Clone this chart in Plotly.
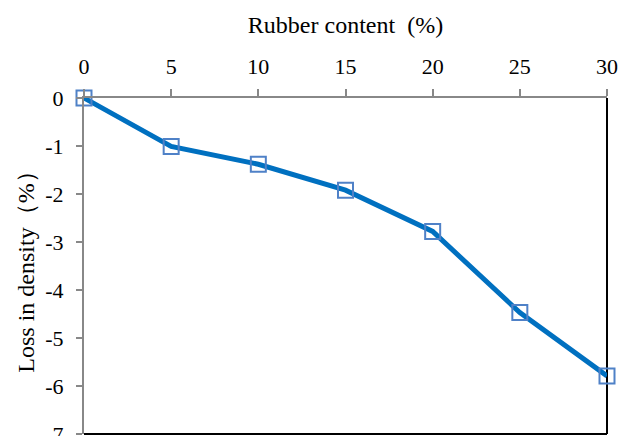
import plotly.graph_objects as go

rubber_content = [0, 5, 10, 15, 20, 25, 30]
loss_in_density = [0, -1.01, -1.38, -1.92, -2.78, -4.47, -5.79]
x_ticks = [0, 5, 10, 15, 20, 25, 30]
y_ticks = [0, -1, -2, -3, -4, -5, -6, -7]
y_tick_text = ["0", "-1", "-2", "-3", "-4", "-5", "-6", "-7"]

FONT = "Liberation Serif, Times New Roman, serif"

fig = go.Figure()
fig.add_trace(go.Scatter(
    x=rubber_content, y=loss_in_density, mode="lines+markers",
    line=dict(color="#0070C0", width=5),
    marker=dict(symbol="square-open", size=15, color="#4F81C7", line=dict(width=2, color="#4F81C7")),
    cliponaxis=False, showlegend=False,
))

fig.update_layout(
    width=619, height=436,
    margin=dict(l=84, r=12, t=98, b=2),
    paper_bgcolor="white", plot_bgcolor="white",
    font=dict(family=FONT, size=22, color="black"),
    xaxis=dict(
        side="top", range=[0, 30], tickvals=x_ticks, ticks="outside", ticklen=7,
        tickcolor="#888888", tickwidth=1.5, showline=True, linecolor="#888888", linewidth=2,
        showgrid=False, zeroline=False, ticklabelstandoff=6, ticklabeloverflow="allow",
        automargin=False,
        title=dict(text="Rubber content  (%)", font=dict(family=FONT, size=24), standoff=14),
        tickfont=dict(family=FONT, size=22),
    ),
    yaxis=dict(
        range=[-7, 0], tickvals=y_ticks, ticktext=y_tick_text, ticks="outside", ticklen=6,
        tickcolor="#888888", tickwidth=1.5, showline=True, linecolor="#888888", linewidth=2,
        showgrid=False, zeroline=False, ticklabelstandoff=8, ticklabeloverflow="allow",
        automargin=False,
        title=dict(text="Loss in density（%）", font=dict(family=FONT, size=24), standoff=4),
        tickfont=dict(family=FONT, size=22),
    ),
)

fig.add_shape(type="line", xref="paper", yref="paper", x0=1, x1=1, y0=0, y1=1,
              line=dict(color="black", width=2), layer="below")
fig.add_shape(type="line", xref="paper", yref="paper", x0=0, x1=1, y0=0, y1=0,
              line=dict(color="black", width=2), layer="below")

fig.write_html("out.html", config={"displayModeBar": False},
               post_script="document.body.style.margin='0px';")
